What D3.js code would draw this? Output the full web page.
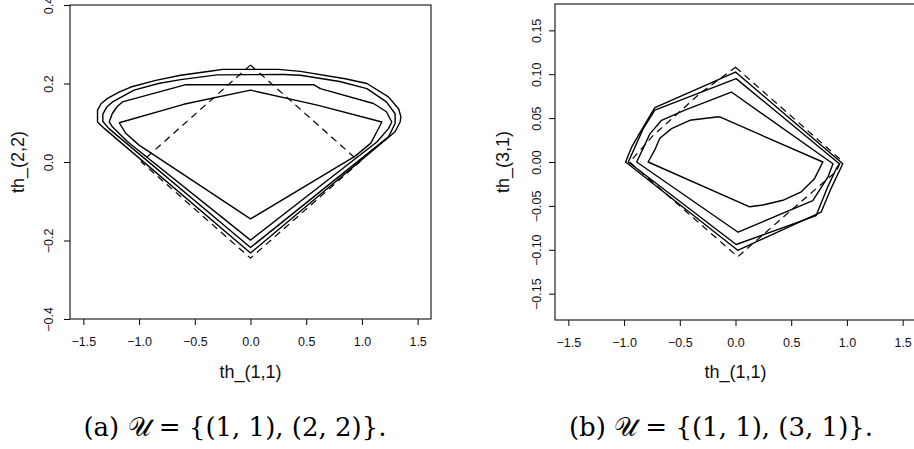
<!DOCTYPE html>
<html>
<head>
<meta charset="utf-8">
<script src="https://cdn.jsdelivr.net/npm/d3@7"></script>
<style>
  body { margin: 0; background: #fff; }
  svg { display: block; }
  .tick text { font-family: "Liberation Sans", Arial, sans-serif; font-size: 12.5px; fill: #111; }
  .lab { font-family: "Liberation Sans", Arial, sans-serif; font-size: 18px; fill: #111; }
  .cap { font-family: "DejaVu Serif", serif; font-size: 26px; fill: #000; }
</style>
</head>
<body>
<script>
// оси
const xTicks = [-1.5, -1, -0.5, 0, 0.5, 1, 1.5];
const yTicksA = [-0.4, -0.2, 0, 0.2, 0.4];
const yTicksB = [-0.15, -0.1, -0.05, 0, 0.05, 0.1, 0.15];

// панель (a): U = {(1,1),(2,2)}, контуры от внутреннего к внешнему
const regionA1 = [[0, -0.145], [-1.0, 0.043], [-1.12, 0.073], [-1.178, 0.1], [-0.6, 0.147], [0, 0.183],
  [0.6, 0.145], [1.179, 0.102], [1.134, 0.077], [1.08, 0.048], [0.94, 0.015]];
const regionA2 = [[0, -0.199], [-1.1, 0.051], [-1.238, 0.089], [-1.268, 0.102], [-1.24, 0.1235], [-1.194, 0.142],
  [-1.149, 0.153], [-0.58, 0.197], [0.567, 0.197], [0.627, 0.187], [1.104, 0.149], [1.22, 0.128],
  [1.268, 0.102], [1.238, 0.085], [1.134, 0.051]];
const regionA3 = [[0, -0.218], [-1.27, 0.085], [-1.325, 0.103], [-1.325, 0.122], [-1.29, 0.14], [-1.238, 0.153],
  [-1.045, 0.183], [-0.827, 0.2], [-0.627, 0.21], [-0.3, 0.222], [0.3, 0.223], [0.448, 0.221], [0.8, 0.205],
  [1.045, 0.187], [1.22, 0.153], [1.298, 0.123], [1.298, 0.098], [1.238, 0.064]];
const regionA4 = [[0, -0.232], [-1.31, 0.085], [-1.373, 0.102], [-1.373, 0.132], [-1.34, 0.149], [-1.283, 0.162],
  [-1.18, 0.178], [-1.074, 0.191], [-0.85, 0.208], [-0.627, 0.221], [-0.35, 0.232], [-0.25, 0.236],
  [0.25, 0.236], [0.448, 0.231], [0.85, 0.212], [1.045, 0.2], [1.238, 0.166], [1.33, 0.135],
  [1.35, 0.115], [1.343, 0.102], [1.298, 0.077]];
const dashA = [[0, 0.247], [0.98, 0.0], [0, -0.245], [-0.98, 0.0]];

// панель (b): U = {(1,1),(3,1)}
const regionB1 = [[-0.784, 0], [-0.72, 0.015], [-0.679, 0.027], [-0.574, 0.038], [-0.41, 0.0475], [-0.171, 0.0513],
  [-0.141, 0.0513], [0.784, 0.0], [0.709, -0.019], [0.59, -0.034], [0.425, -0.0436], [0.246, -0.049], [0.127, -0.051]];
const regionB2 = [[-0.887, 0.0], [-0.768, 0.032], [-0.664, 0.0475], [-0.455, 0.059], [-0.037, 0.0797],
  [0.875, -0.002], [0.83, -0.017], [0.754, -0.032], [0.694, -0.044], [0.023, -0.08]];
const regionB3 = [[-0.962, 0.0], [-0.828, 0.038], [-0.724, 0.059], [0.006, 0.095], [0.932, -0.002],
  [0.903, -0.008], [0.829, -0.028], [0.724, -0.061], [0.006, -0.094]];
const regionB4 = [[-0.986, 0.0], [-0.932, 0.017], [-0.873, 0.03], [-0.724, 0.062], [0, 0.1025],
  [0.963, -0.002], [0.858, -0.03], [0.769, -0.057], [0.02, -0.1006]];
const dashB = [[0, 0.108], [0.95, 0.002], [0.903, -0.011], [0.709, -0.032], [0.381, -0.068], [0.02, -0.108],
  [-0.95, 0.0], [-0.74, 0.03], [-0.32, 0.078]];

const svg = d3.select('body').append('svg').attr('width', 914).attr('height', 449);

const drawPanel = (p) => {
    const x = d3.scaleLinear().domain([-1.62, 1.62]).range([p.left, p.right]);
    const y = d3.scaleLinear().domain(p.ydom).range([p.bottom, p.top]);
    const g = svg.append('g');

    // оси в стиле R
    const ax = g.append('g')
        .attr('transform', 'translate(0,' + p.bottom + ')')
        .call(d3.axisBottom(x).tickValues(xTicks).tickSize(6).tickFormat(d3.format('.1f')));
    ax.select('.domain').remove();
    ax.selectAll('.tick text').attr('y', 27).attr('dy', null);

    const ay = g.append('g')
        .attr('transform', 'translate(' + p.left + ',0)')
        .call(d3.axisLeft(y).tickValues(p.yTicks).tickSize(6).tickFormat(d3.format(p.yFmt)));
    ay.select('.domain').remove();
    ay.selectAll('.tick text')
        .attr('x', null).attr('dy', null)
        .attr('text-anchor', 'middle')
        .attr('transform', 'translate(' + (-p.labOff) + ',0) rotate(-90)');

    const line = d3.line().x(d => x(d[0])).y(d => y(d[1])).curve(d3.curveLinearClosed);

    g.selectAll('path.region')
        .data(p.regions)
        .enter()
        .append('path')
        .attr('class', 'region')
        .attr('d', line)
        .attr('fill', 'none')
        .attr('stroke', '#000')
        .attr('stroke-width', 1.4)
        .attr('stroke-linejoin', 'round');

    g.append('path')
        .attr('d', line(p.dash))
        .attr('fill', 'none')
        .attr('stroke', '#000')
        .attr('stroke-width', 1.2)
        .attr('stroke-dasharray', '7,5');

    // рамка
    g.append('rect')
        .attr('x', p.left).attr('y', p.top)
        .attr('width', p.right - p.left).attr('height', p.bottom - p.top)
        .attr('fill', 'none').attr('stroke', '#222').attr('stroke-width', 1.2);

    g.append('text').attr('class', 'lab')
        .attr('x', x(0)).attr('y', 378)
        .attr('text-anchor', 'middle')
        .text('th_(1,1)');

    g.append('text').attr('class', 'lab')
        .attr('transform', 'translate(' + p.ylabX + ',' + ((p.top + p.bottom) / 2) + ') rotate(-90)')
        .attr('text-anchor', 'middle')
        .text(p.ylab);

    g.append('text').attr('class', 'cap')
        .attr('x', p.capX).attr('y', 436)
        .attr('text-anchor', 'middle')
        .text(p.caption);
};

drawPanel({
    left: 70, right: 431, top: 5, bottom: 319,
    ydom: [-0.4, 0.4], yTicks: yTicksA, yFmt: '.1f', labOff: 17.5,
    regions: [regionA1, regionA2, regionA3, regionA4], dash: dashA,
    ylab: 'th_(2,2)', ylabX: 24, capX: 235,
    caption: '(a) 𝒰 = {(1, 1), (2, 2)}.'
});

drawPanel({
    left: 555, right: 916, top: 4, bottom: 320,
    ydom: [-0.18, 0.18], yTicks: yTicksB, yFmt: '.2f', labOff: 14.5,
    regions: [regionB1, regionB2, regionB3, regionB4], dash: dashB,
    ylab: 'th_(3,1)', ylabX: 509, capX: 721,
    caption: '(b) 𝒰 = {(1, 1), (3, 1)}.'
});
</script>
</body>
</html>
